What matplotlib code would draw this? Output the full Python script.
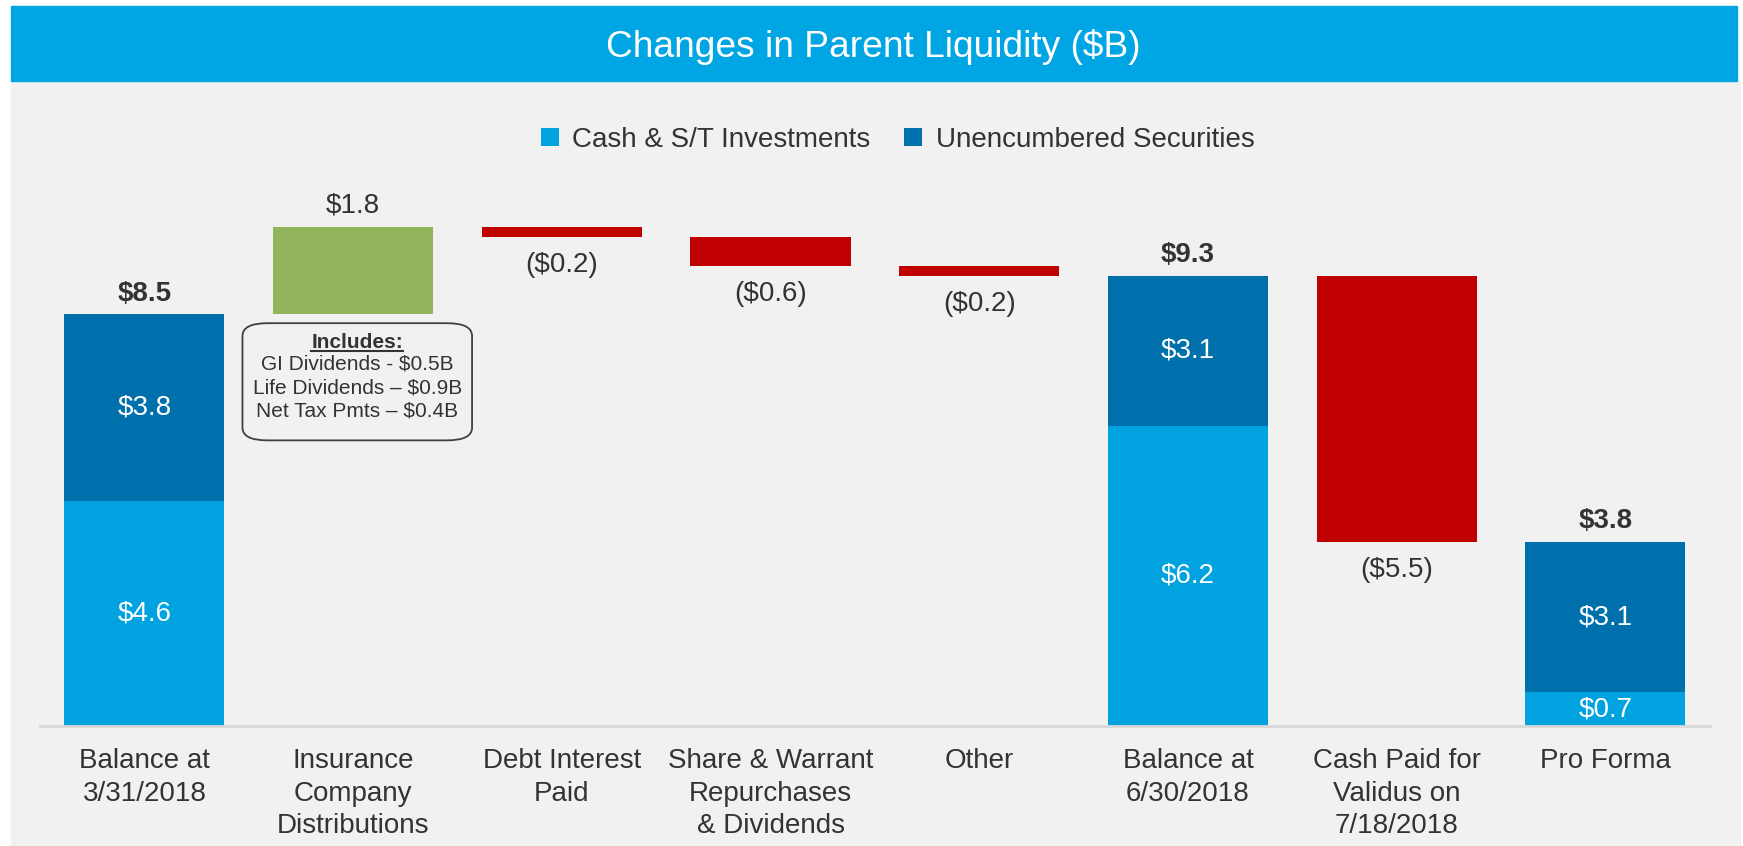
import matplotlib.pyplot as plt
from matplotlib.patches import Rectangle, FancyBboxPatch
import numpy as np

plt.rcParams['font.family'] = ['Liberation Sans', 'DejaVu Sans']

# data
categories = ["Balance at\n3/31/2018", "Insurance\nCompany\nDistributions", "Debt Interest\nPaid",
              "Share & Warrant\nRepurchases\n& Dividends", "Other", "Balance at\n6/30/2018",
              "Cash Paid for\nValidus on\n7/18/2018", "Pro Forma"]
total_idx = [0, 5, 7]
cash = [4.65, 6.2, 0.7]
securities = [3.85, 3.1, 3.1]
cash_labels = ["$4.6", "$6.2", "$0.7"]
sec_labels = ["$3.8", "$3.1", "$3.1"]
total_labels = ["$8.5", "$9.3", "$3.8"]
change_idx = [1, 2, 3, 4, 6]
changes = [1.8, -0.2, -0.6, -0.2, -5.5]
change_labels = ["$1.8", "($0.2)", "($0.6)", "($0.2)", "($5.5)"]
note_lines = ["GI Dividends - $0.5B", "Life Dividends \u2013 $0.9B", "Net Tax Pmts \u2013 $0.4B"]

c_cash = '#00A3E0'
c_sec = '#0070AD'
c_up = '#92B55C'
c_down = '#C00000'
bg = '#F1F1F1'
txt = '#333333'

fig = plt.figure(figsize=(17.43, 8.46), dpi=100)
fig.patch.set_facecolor('white')
fig.add_artist(Rectangle((0.0063, 0), 0.992, 0.904, transform=fig.transFigure, color=bg, zorder=0))
fig.add_artist(Rectangle((0.0063, 0.904), 0.9903, 0.089, transform=fig.transFigure, color='#00A5E3', zorder=1))
fig.text(0.501, 0.944, "Changes in Parent Liquidity ($B)", color='white', fontsize=26.7, ha='center', va='center')

ax = fig.add_axes([0.02295, 0.1418, 0.958, 0.6868])
ax.set_facecolor(bg)
ax.patch.set_alpha(0)
w = 0.767
x = np.arange(len(categories))

# totals (stacked)
ax.bar(x[total_idx], cash, w, color=c_cash, label='Cash & S/T Investments', zorder=2)
ax.bar(x[total_idx], securities, w, bottom=cash, color=c_sec, label='Unencumbered Securities', zorder=2)
for i, k in enumerate(total_idx):
    tot = cash[i] + securities[i]
    ax.text(k, cash[i] / 2, cash_labels[i], color='white', fontsize=20, ha='center', va='center')
    ax.text(k, cash[i] + securities[i] / 2, sec_labels[i], color='white', fontsize=20, ha='center', va='center')
    ax.annotate(total_labels[i], (k, tot), xytext=(0, 15), textcoords='offset points',
                fontsize=20, fontweight='bold', color=txt, ha='center', va='center')

# floating change bars
level = cash[0] + securities[0]
for k, v, lab in zip(change_idx, changes, change_labels):
    if k > 5:
        level = cash[1] + securities[1]
    bottom = level if v > 0 else level + v
    ax.bar(k, abs(v), w, bottom=bottom, color=c_up if v > 0 else c_down, zorder=2)
    if v > 0:
        ax.annotate(lab, (k, level + v), xytext=(0, 16), textcoords='offset points',
                    fontsize=20, color=txt, ha='center', va='center')
    else:
        ax.annotate(lab, (k, level + v), xytext=(0, -20), textcoords='offset points',
                    fontsize=20, color=txt, ha='center', va='center')
    level += v

# note box under the distributions bar
nx, ntop = 1.02, 8.32
ax.add_patch(FancyBboxPatch((nx - 0.55, ntop - 2.42), 1.1, 2.42, boxstyle='round,pad=0,rounding_size=0.12',
                            mutation_aspect=2.2, facecolor=bg, edgecolor='#404040', lw=1.3, zorder=3))
inc = ax.text(nx, 7.93, "Includes:", fontsize=15, fontweight='bold', color=txt, ha='center', va='center', zorder=4)
for j, line in enumerate(note_lines):
    ax.text(nx, 7.47 - 0.48 * j, line, fontsize=15, color=txt, ha='center', va='center', zorder=4)

ax.set_xlim(-0.5, len(categories) - 0.5)
ax.set_ylim(0, 12)
ax.set_xticks(x)
ax.set_xticklabels(categories, fontsize=20, color=txt, linespacing=1.32)
ax.tick_params(axis='x', length=0, pad=16)
ax.set_yticks([])
for s in ['top', 'right', 'left']:
    ax.spines[s].set_visible(False)
ax.spines['bottom'].set_color('#D9D9D9')
ax.spines['bottom'].set_linewidth(2)

fig.legend(loc='center', bbox_to_anchor=(0.515, 0.835), ncol=2, frameon=False, fontsize=20,
           handlelength=0.65, handleheight=0.65, handletextpad=0.5, columnspacing=1.2, labelcolor=txt)

# underline for "Includes:"
fig.canvas.draw()
bb = inc.get_window_extent()
inv = ax.transData.inverted()
(x0, y0), (x1, _) = inv.transform([(bb.x0, bb.y0 + 1), (bb.x1, bb.y0 + 1)])
ax.plot([x0, x1], [y0, y0], color=txt, lw=1.5, zorder=4)

fig.savefig('out.png', dpi=100, facecolor=fig.get_facecolor())
